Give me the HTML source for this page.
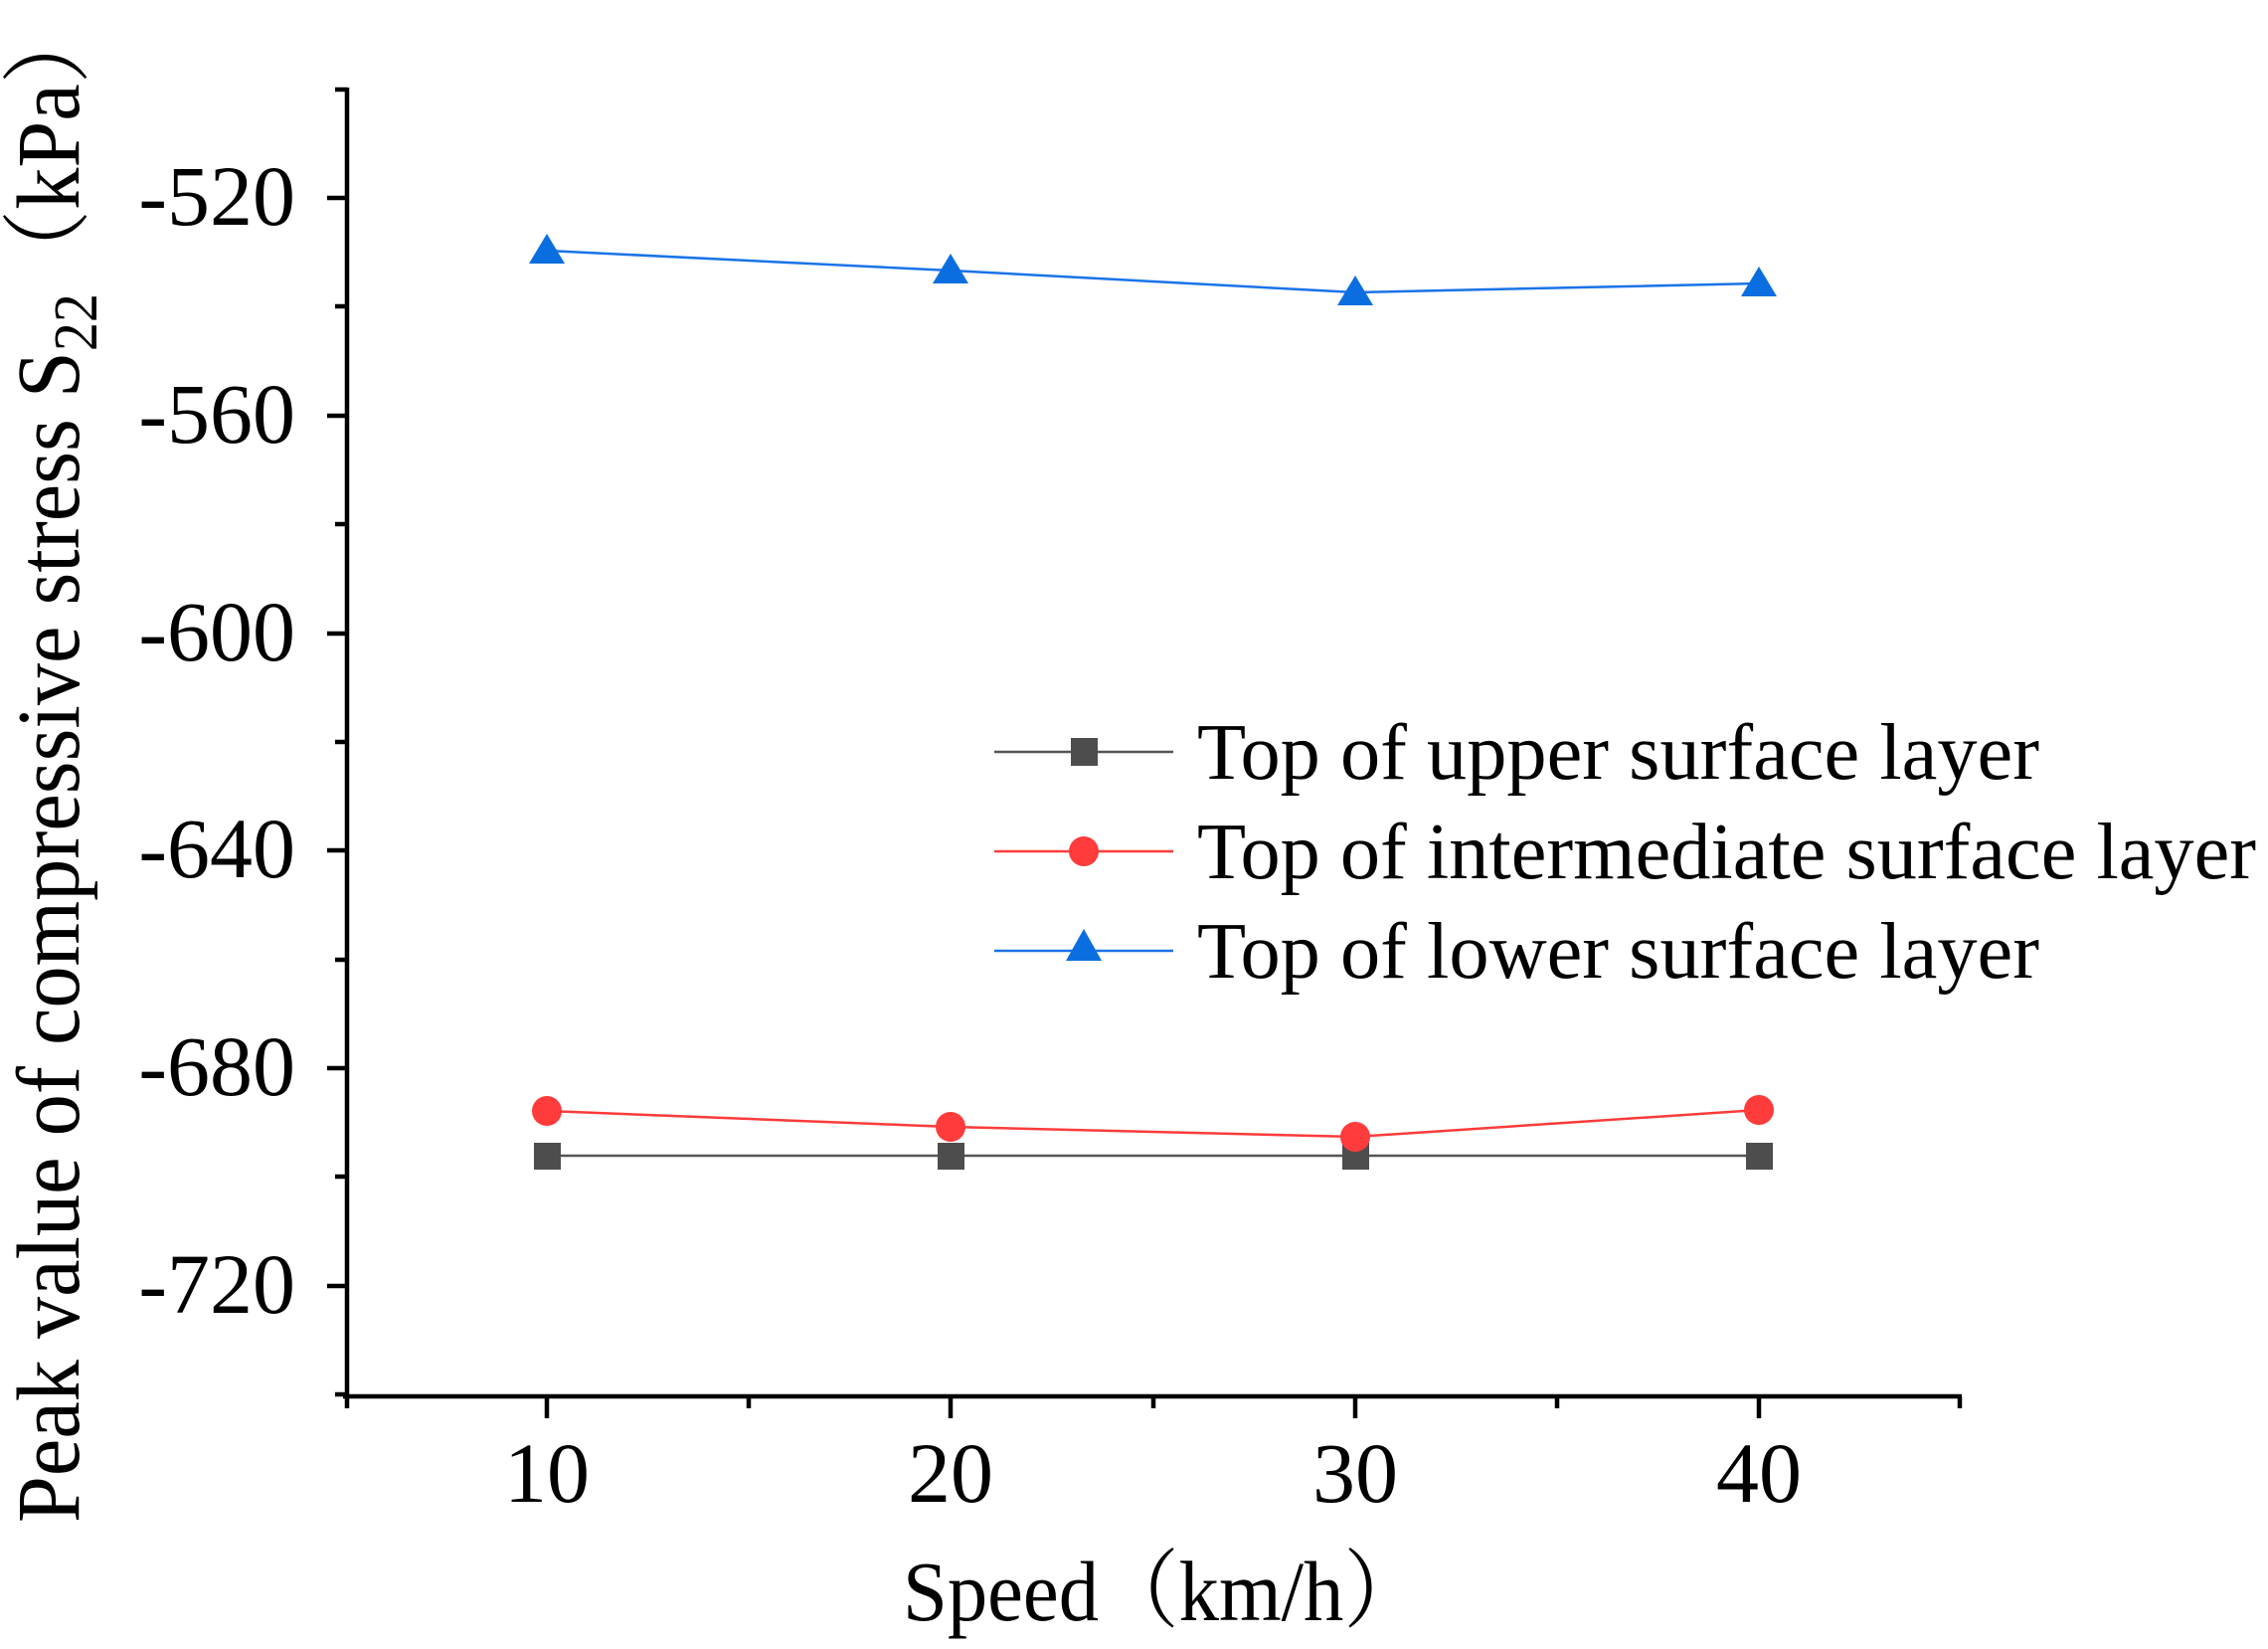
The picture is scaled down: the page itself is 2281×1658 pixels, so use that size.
<!DOCTYPE html>
<html><head><meta charset="utf-8"><style>html,body{margin:0;padding:0;background:#fff}svg{display:block}text{font-family:"Liberation Serif","Times New Roman","Noto Serif CJK SC",serif}</style></head>
<body>
<svg width="2281" height="1658" viewBox="0 0 2281 1658" xmlns="http://www.w3.org/2000/svg">
<g stroke="#000" stroke-width="4.5" fill="none">
<line x1="349" y1="88" x2="349" y2="1406"/>
<line x1="345" y1="1404" x2="1973" y2="1404"/>
<line x1="329" y1="199" x2="349" y2="199"/>
<line x1="329" y1="418" x2="349" y2="418"/>
<line x1="329" y1="637" x2="349" y2="637"/>
<line x1="329" y1="855" x2="349" y2="855"/>
<line x1="329" y1="1074" x2="349" y2="1074"/>
<line x1="329" y1="1293" x2="349" y2="1293"/>
<line x1="337" y1="90" x2="349" y2="90"/>
<line x1="337" y1="308" x2="349" y2="308"/>
<line x1="337" y1="527" x2="349" y2="527"/>
<line x1="337" y1="746" x2="349" y2="746"/>
<line x1="337" y1="965" x2="349" y2="965"/>
<line x1="337" y1="1183" x2="349" y2="1183"/>
<line x1="337" y1="1402" x2="349" y2="1402"/>
<line x1="550" y1="1404" x2="550" y2="1426"/>
<line x1="956" y1="1404" x2="956" y2="1426"/>
<line x1="1363" y1="1404" x2="1363" y2="1426"/>
<line x1="1769" y1="1404" x2="1769" y2="1426"/>
<line x1="349" y1="1404" x2="349" y2="1416"/>
<line x1="753" y1="1404" x2="753" y2="1416"/>
<line x1="1160" y1="1404" x2="1160" y2="1416"/>
<line x1="1566" y1="1404" x2="1566" y2="1416"/>
<line x1="1971" y1="1404" x2="1971" y2="1416"/>
</g>
<g font-size="86" text-anchor="end" fill="#000">
<text x="297" y="226">-520</text>
<text x="297" y="445">-560</text>
<text x="297" y="664">-600</text>
<text x="297" y="882">-640</text>
<text x="297" y="1101">-680</text>
<text x="297" y="1320">-720</text>
</g>
<g font-size="86" text-anchor="middle" fill="#000">
<text x="550" y="1510">10</text>
<text x="956" y="1510">20</text>
<text x="1363" y="1510">30</text>
<text x="1769" y="1510">40</text>
</g>
<text x="1170" y="1629" font-size="86" text-anchor="middle" textLength="524" lengthAdjust="spacingAndGlyphs">Speed（km/h）</text>
<text transform="translate(79,1531) rotate(-90)" font-size="90" textLength="1531" lengthAdjust="spacingAndGlyphs">Peak value of compressive stress S<tspan font-size="62" dy="18">22</tspan><tspan dy="-18">（kPa）</tspan></text>
<polyline points="550,1162 956,1162 1363,1162 1769,1162" fill="none" stroke="#555" stroke-width="2.5"/>
<g fill="#4d4d4d"><rect x="537" y="1149" width="27" height="27"/><rect x="943" y="1149" width="27" height="27"/><rect x="1350" y="1149" width="27" height="27"/><rect x="1756" y="1149" width="27" height="27"/></g>
<polyline points="550,1117 956,1133 1363,1143 1769,1116" fill="none" stroke="#ff3b3b" stroke-width="2.5"/>
<g fill="#ff3b3b"><circle cx="550" cy="1117" r="15"/><circle cx="956" cy="1133" r="15"/><circle cx="1363" cy="1143" r="15"/><circle cx="1769" cy="1116" r="15"/></g>
<polyline points="550,252 956,272 1363,294 1769,285" fill="none" stroke="#1a73e8" stroke-width="2.5"/>
<g fill="#0b6ee0">
<polygon points="550,235 532,265 568,265"/><polygon points="956,255 938,285 974,285"/><polygon points="1363,277 1345,307 1381,307"/><polygon points="1769,268 1751,298 1787,298"/>
</g>
<line x1="1000" y1="756" x2="1180" y2="756" stroke="#555" stroke-width="2.5"/>
<rect x="1077" y="742" width="27" height="28" fill="#4d4d4d"/>
<line x1="1000" y1="856" x2="1180" y2="856" stroke="#ff3b3b" stroke-width="2.5"/>
<circle cx="1090" cy="856" r="15" fill="#ff3b3b"/>
<line x1="1000" y1="956" x2="1180" y2="956" stroke="#1a73e8" stroke-width="2.5"/>
<polygon points="1090,934 1072,966 1108,966" fill="#0b6ee0"/>
<g font-size="80" fill="#000">
<text x="1204" y="783" textLength="847" lengthAdjust="spacingAndGlyphs">Top of upper surface layer</text>
<text x="1204" y="883" textLength="1065" lengthAdjust="spacingAndGlyphs">Top of intermediate surface layer</text>
<text x="1204" y="983" textLength="847" lengthAdjust="spacingAndGlyphs">Top of lower surface layer</text>
</g>
</svg>
</body></html>
